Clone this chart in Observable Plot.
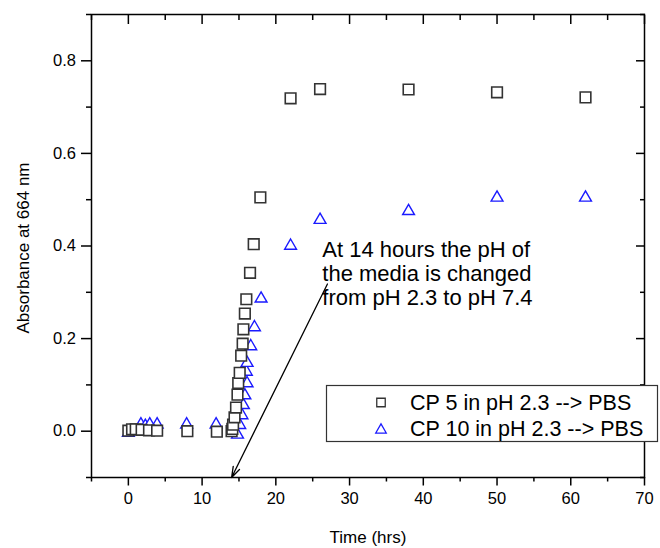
<!DOCTYPE html>
<html>
<head>
<meta charset="utf-8">
<script src="https://cdn.jsdelivr.net/npm/d3@7"></script>
<script src="https://cdn.jsdelivr.net/npm/@observablehq/plot@0.6"></script>
<style>
  html, body { margin: 0; padding: 0; background: #fff; }
  #chart { width: 660px; height: 548px; }
</style>
</head>
<body>
<div id="chart"></div>
<script>
// ---- data ----
const seriesNames = ["CP 5 in pH 2.3 --> PBS", "CP 10 in pH 2.3 --> PBS"];

const cp5Time = [0, 0.5, 1, 1.8, 2.8, 3.9, 8, 12, 14, 14.1, 14.2, 14.4, 14.6, 14.8, 14.9, 15.1, 15.3, 15.5, 15.6, 15.8, 16, 16.5, 17, 17.9, 22, 26, 38, 50, 62];
const cp5Abs  = [0.001, 0.004, 0.004, 0.003, 0.002, 0.001, 0.0, -0.001, 0.0, 0.005, 0.014, 0.03, 0.051, 0.079, 0.104, 0.126, 0.163, 0.189, 0.22, 0.254, 0.285, 0.342, 0.404, 0.505, 0.719, 0.739, 0.738, 0.732, 0.721];

const cp10Time = [0, 1.7, 2.3, 2.9, 3.9, 7.9, 11.9, 14.8, 15.1, 15.4, 15.6, 15.8, 16.1, 16.0, 16.1, 16.6, 17.1, 18, 22, 26, 38, 50, 62];
const cp10Abs  = [0.0, 0.018, 0.015, 0.018, 0.018, 0.018, 0.018, -0.004, 0.017, 0.038, 0.06, 0.081, 0.107, 0.132, 0.151, 0.187, 0.228, 0.29, 0.404, 0.46, 0.479, 0.508, 0.508];

const xMajorTicks = [0, 10, 20, 30, 40, 50, 60, 70];
const xMinorTicks = [-5, 5, 15, 25, 35, 45, 55, 65];
const yMajorTicks = [0, 0.2, 0.4, 0.6, 0.8];
const yMinorTicks = [-0.1, 0.1, 0.3, 0.5, 0.7, 0.9];

const xLabel = "Time (hrs)";
const yLabel = "Absorbance at 664 nm";
const noteLines = ["At 14 hours the pH of", "the media is changed", "from pH 2.3 to pH 7.4"];
const noteAnchor = [{x: 26.3, y: 0.342}];
const noteArrow = [{x1: 27.0, y1: 0.318, x2: 14, y2: -0.1}];

// ---- build tables ----
const cp5 = cp5Time.map((t, i) => ({time: t, abs: cp5Abs[i]}));
const cp10 = cp10Time.map((t, i) => ({time: t, abs: cp10Abs[i]}));

const FONT = "'Liberation Sans', Arial, Helvetica, sans-serif";

const svg = Plot.plot({
  width: 660,
  height: 548,
  marginLeft: 91,
  marginRight: 16,
  marginTop: 14,
  marginBottom: 71,
  style: {fontFamily: FONT, fontSize: "16.5px", background: "white", color: "black", overflow: "visible"},
  x: {domain: [-5, 70]},
  y: {domain: [-0.1, 0.9]},
  marks: [
    // axes: bottom (outward), top (inward)
    Plot.axisX(xMajorTicks, {anchor: "bottom", tickSize: 8.5, tickPadding: 6, strokeWidth: 1.5, tickFormat: d => String(d), label: null}),
    Plot.axisX(xMinorTicks, {anchor: "bottom", tickSize: 4.5, strokeWidth: 1.5, tickFormat: () => "", label: null}),
    Plot.axisX(xMajorTicks, {anchor: "top", tickSize: -9, strokeWidth: 1.5, tickFormat: () => "", label: null}),
    Plot.axisX(xMinorTicks, {anchor: "top", tickSize: -5, strokeWidth: 1.5, tickFormat: () => "", label: null}),
    // axes: left (outward), right (inward)
    Plot.axisY(yMajorTicks, {anchor: "left", tickSize: 10, tickPadding: 5.5, strokeWidth: 1.5, tickFormat: d3.format(".1f"), label: null}),
    Plot.axisY(yMinorTicks, {anchor: "left", tickSize: 5, strokeWidth: 1.5, tickFormat: () => "", label: null}),
    Plot.axisY(yMajorTicks, {anchor: "right", tickSize: -9, strokeWidth: 1.5, tickFormat: () => "", label: null}),
    Plot.axisY(yMinorTicks, {anchor: "right", tickSize: -5, strokeWidth: 1.5, tickFormat: () => "", label: null}),
    Plot.frame({stroke: "black", strokeWidth: 1.5}),
    // axis titles
    Plot.text([xLabel], {frameAnchor: "bottom", dy: 60, textAnchor: "middle", lineAnchor: "middle", fontSize: 17, fill: "black"}),
    Plot.text([yLabel], {frameAnchor: "left", rotate: -90, dx: -68, dy: 2, textAnchor: "middle", lineAnchor: "middle", fontSize: 17, fill: "black"}),
    // data
    Plot.dot(cp10, {x: "time", y: "abs", symbol: "triangle", r: 4.4, dy: 1.7, stroke: "#1a1aff", strokeWidth: 1.4, fill: "white"}),
    Plot.dot(cp5, {x: "time", y: "abs", symbol: "square", r: 6.0, stroke: "#333", strokeWidth: 1.6, fill: "white"}),
    // annotation
    Plot.arrow(noteArrow, {x1: "x1", y1: "y1", x2: "x2", y2: "y2", stroke: "black", strokeWidth: 1.3, headLength: 13, headAngle: 36}),
    Plot.text(noteAnchor, {x: "x", y: "y", text: () => noteLines.join("\n"), textAnchor: "start", lineAnchor: "middle", lineHeight: 24 / 22, fontSize: 22, fill: "black"})
  ]
});

// ---- legend box (drawn in the plot's SVG) ----
const lg = d3.select(svg).append("g").attr("font-family", FONT).attr("text-anchor", "start");
lg.append("rect")
  .attr("x", 326.5).attr("y", 385.5).attr("width", 331).attr("height", 56)
  .attr("fill", "white").attr("stroke", "#333").attr("stroke-width", 1.2);
const legendItems = [
  {name: seriesNames[0], symbol: d3.symbolSquare, size: 72, stroke: "#333", cy: 402.5},
  {name: seriesNames[1], symbol: d3.symbolTriangle, size: 48, stroke: "#1a1aff", cy: 428.5}
];
legendItems.forEach(it => {
  lg.append("path")
    .attr("d", d3.symbol(it.symbol, it.size)())
    .attr("transform", `translate(381,${it.cy + (it.symbol === d3.symbolTriangle ? 1.5 : 0)})`)
    .attr("fill", "white").attr("stroke", it.stroke).attr("stroke-width", 1.3);
  lg.append("text")
    .attr("x", 410).attr("y", it.cy).attr("dy", "0.35em")
    .attr("text-anchor", "start")
    .attr("font-size", 21.5).attr("fill", "black")
    .text(it.name);
});

document.getElementById("chart").appendChild(svg);
</script>
</body>
</html>
